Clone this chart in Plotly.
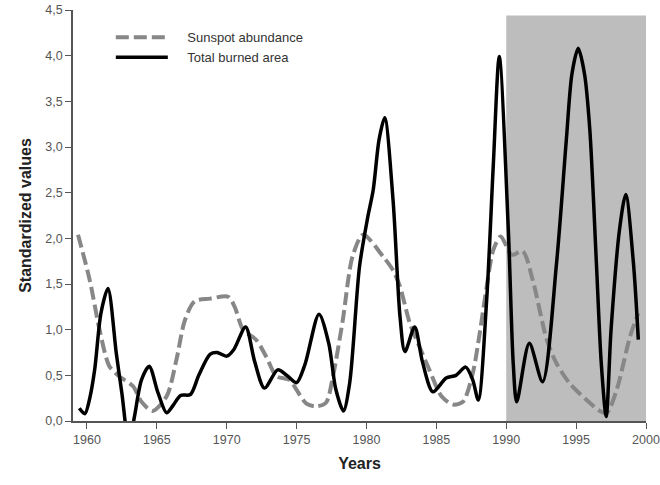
import plotly.graph_objects as go

# Sunspot abundance (standardized)
sun_years = [1959.36, 1960.2, 1960.9, 1961.6, 1962.3, 1963.3, 1963.9, 1964.7, 1965.7, 1966.4,
             1967.0, 1967.7, 1968.8, 1970.1, 1970.57, 1971.17, 1972.1, 1972.84, 1973.56, 1974.5,
             1975.0, 1975.7, 1976.4, 1977.1, 1977.6, 1978.3, 1979.0, 1979.76, 1981.19, 1981.9,
             1982.4, 1983.1, 1983.8, 1984.5, 1985.37, 1986.2, 1986.9, 1987.6, 1988.1, 1988.6,
             1989.07, 1989.6, 1990.4, 1991.17, 1991.9, 1992.9, 1993.6, 1994.55, 1995.75, 1996.7,
             1997.2, 1997.9, 1998.85, 1999.44]
sun_values = [2.04, 1.54, 1.0, 0.6, 0.49, 0.38, 0.21, 0.11, 0.27, 0.67,
              1.1, 1.31, 1.34, 1.36, 1.25, 1.0, 0.89, 0.70, 0.49, 0.45,
              0.34, 0.19, 0.16, 0.2, 0.49, 1.1, 1.8, 2.04, 1.80, 1.65,
              1.47, 1.07, 0.81, 0.56, 0.27, 0.18, 0.21, 0.52, 0.96, 1.47,
              1.87, 2.02, 1.82, 1.86, 1.54, 0.89, 0.63, 0.41, 0.23, 0.11,
              0.09, 0.34, 0.92, 1.18]

# Total burned area (standardized)
burn_years = [1959.45, 1959.85, 1960.2, 1960.55, 1961.0, 1961.5, 1962.1, 1962.5, 1963.0, 1963.4,
              1963.9, 1964.45, 1965.08, 1965.7, 1966.2, 1966.7, 1967.4, 1968.0, 1968.8, 1969.3,
              1970.0, 1970.5, 1971.35, 1972.0, 1972.7, 1973.65, 1974.3, 1975.0, 1975.6, 1976.6,
              1977.3, 1977.8, 1978.35, 1978.8, 1979.5, 1980.1, 1980.48, 1980.9, 1981.3, 1981.9,
              1982.4, 1982.75, 1983.45, 1984.0, 1984.75, 1985.7, 1986.4, 1987.1, 1987.6, 1988.0,
              1988.6, 1989.07, 1989.5, 1990.15, 1990.5, 1990.75, 1991.65, 1992.6, 1993.6, 1994.3,
              1994.7, 1995.15, 1995.6, 1995.98, 1996.45, 1996.8, 1997.15, 1997.5, 1998.1, 1998.55,
              1999.1, 1999.45]
burn_values = [0.14, 0.08, 0.25, 0.56, 1.18, 1.45, 0.74, 0.30, -0.25, 0.05,
               0.45, 0.60, 0.31, 0.09, 0.18, 0.28, 0.29, 0.50, 0.73, 0.75,
               0.71, 0.78, 1.03, 0.65, 0.36, 0.56, 0.50, 0.42, 0.62, 1.17,
               0.85, 0.35, 0.11, 0.42, 1.69, 2.24, 2.53, 3.08, 3.32, 2.42,
               1.14, 0.76, 1.03, 0.65, 0.32, 0.47, 0.50, 0.59, 0.45, 0.23,
               1.33, 2.79, 3.99, 2.09, 0.63, 0.21, 0.85, 0.43, 1.73, 3.08,
               3.80, 4.08, 3.80, 3.19, 1.73, 0.63, 0.05, 1.0, 2.09, 2.48,
               1.73, 0.89]

y_ticks = [0, 0.5, 1.0, 1.5, 2.0, 2.5, 3.0, 3.5, 4.0, 4.5]
y_tick_labels = ["0,0", "0,5", "1,0", "1,5", "2,0", "2,5", "3,0", "3,5", "4,0", "4,5"]
x_ticks = [1960, 1965, 1970, 1975, 1980, 1985, 1990, 1995, 2000]

shade_start, shade_end, shade_top = 1990, 2000, 4.44

FONT = "Liberation Sans, Arial, sans-serif"
NB = "\u00a0\u00a0\u00a0\u00a0"

fig = go.Figure()
fig.add_trace(go.Scatter(
    x=sun_years, y=sun_values, mode="lines", name=NB + "Sunspot abundance",
    line=dict(color="#878787", width=4, dash="13px,5px", shape="spline", smoothing=0.8),
))
fig.add_trace(go.Scatter(
    x=burn_years, y=burn_values, mode="lines", name=NB + "Total burned area",
    line=dict(color="#000000", width=3.5, shape="spline", smoothing=0.8),
))

fig.add_shape(type="rect", xref="x", yref="y", x0=shade_start, x1=shade_end, y0=0, y1=shade_top,
              fillcolor="#bdbdbd", line=dict(width=0), layer="below")

fig.update_layout(
    width=660, height=485,
    margin=dict(l=73, r=14, t=10, b=64),
    paper_bgcolor="white", plot_bgcolor="white",
    font=dict(family=FONT, size=12.5, color="#555555"),
    showlegend=True,
    legend=dict(x=0.066, y=0.97, xanchor="left", yanchor="top", bgcolor="rgba(0,0,0,0)",
                font=dict(size=13, color="#333333"), itemwidth=52, tracegroupgap=0),
    xaxis=dict(range=[1959, 2000], tickvals=x_ticks, ticks="outside", ticklen=6,
               tickcolor="#555555", showline=True, linecolor="#555555", linewidth=1.5,
               showgrid=False, zeroline=False, automargin=False,
               tickfont=dict(size=12.5, color="#555555"),
               title=dict(text="<b>Years</b>", font=dict(size=16, color="#222222"), standoff=12)),
    yaxis=dict(range=[0, 4.5], tickvals=y_ticks, ticktext=y_tick_labels, ticks="outside", ticklen=6,
               tickcolor="#555555", showline=True, linecolor="#555555", linewidth=1.5,
               showgrid=False, zeroline=False, automargin=False,
               tickfont=dict(size=12.5, color="#555555"),
               title=dict(text="<b>Standardized values</b>", font=dict(size=16, color="#222222"), standoff=10)),
)

fig.write_html("out.html")
